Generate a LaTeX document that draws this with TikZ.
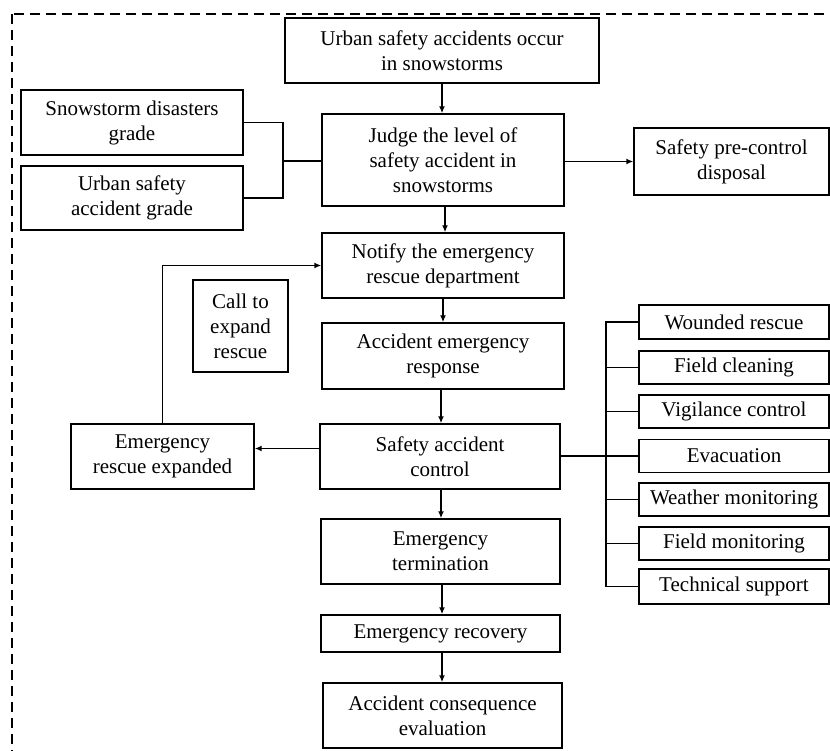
\documentclass[tikz,border=0pt]{standalone}
\usepackage{fontspec}
\setmainfont{Liberation Serif}
\usetikzlibrary{arrows.meta}
\begin{document}
\begin{tikzpicture}[x=1pt,y=-1pt,
  box/.style={draw,line width=1.4pt,align=center,inner sep=0pt,font=\fontsize{21}{25}\selectfont},
  conn/.style={line width=1.4pt},
  arr/.style={line width=1.4pt,-{Latex[length=7pt,width=6pt]}}]
\useasboundingbox (0,0) rectangle (830,751);
\clip (0,0) rectangle (830,751);
\fill[white] (0,0) rectangle (830,751);
\draw[line width=2pt,dash pattern=on 10pt off 6pt] (12,14) rectangle (860,780);
% central column
\node[box,minimum width=314pt,minimum height=65pt] (top) at (442,50.5) {Urban safety accidents occur\\in snowstorms};
\node[box,minimum width=242pt,minimum height=92pt] (judge) at (443,160) {Judge the level of\\safety accident in\\snowstorms};
\node[box,minimum width=242pt,minimum height=65pt] (notify) at (443,265.5) {Notify the emergency\\rescue department};
\node[box,minimum width=242pt,minimum height=66pt] (resp) at (443,356) {Accident emergency\\response};
\node[box,minimum width=240pt,minimum height=65pt] (ctrl) at (440,456.5) {Safety accident\\control};
\node[box,minimum width=239pt,minimum height=65pt] (term) at (440.5,551.5) {Emergency\\termination};
\node[box,minimum width=239pt,minimum height=37pt] (rec) at (440.5,633.5) {Emergency recovery};
\node[box,minimum width=239pt,minimum height=65pt] (eval) at (442.5,715.5) {Accident consequence\\evaluation};
% left
\node[box,minimum width=222pt,minimum height=65pt] (snow) at (132,122.5) {Snowstorm disasters\\grade};
\node[box,minimum width=222pt,minimum height=64pt] (ugrade) at (132,198) {Urban safety\\accident grade};
\node[box,minimum width=95pt,minimum height=92pt] (call) at (240.5,326) {Call to\\expand\\rescue};
\node[box,minimum width=183pt,minimum height=65pt] (expd) at (162.5,456.5) {Emergency\\rescue expanded};
% right
\node[box,minimum width=195pt,minimum height=67pt] (pre) at (731.5,161.5) {Safety pre-control\\disposal};
\node[box,minimum width=190pt,minimum height=34pt] (r1) at (734,322) {Wounded rescue};
\node[box,minimum width=190pt,minimum height=33pt] (r2) at (734,367.5) {Field cleaning};
\node[box,minimum width=190pt,minimum height=33pt] (r3) at (734,411.5) {Vigilance control};
\node[box,minimum width=190pt,minimum height=33pt] (r4) at (734,456) {Evacuation};
\node[box,minimum width=190pt,minimum height=33pt] (r5) at (734,499.5) {Weather monitoring};
\node[box,minimum width=190pt,minimum height=33pt] (r6) at (734,543.5) {Field monitoring};
\node[box,minimum width=190pt,minimum height=35pt] (r7) at (734,586.5) {Technical support};
% connectors
\draw[arr] (top.south -| 442,0) -- (judge.north -| 442,0);
\draw[arr] (judge.south -| 445,0) -- (notify.north -| 445,0);
\draw[arr] (notify.south -| 443,0) -- (resp.north -| 443,0);
\draw[arr] (resp.south -| 441,0) -- (ctrl.north -| 441,0);
\draw[arr] (ctrl.south -| 441,0) -- (term.north -| 441,0);
\draw[arr] (term.south -| 442,0) -- (rec.north -| 442,0);
\draw[arr] (rec.south -| 442,0) -- (eval.north -| 442,0);
\draw[arr] (judge.east |- pre.west) -- (pre.west);
\coordinate (bj) at (283,161);
\draw[conn] (snow.east) -| (bj) |- (ugrade.east);
\draw[conn] (bj) -- (bj -| judge.west);
\draw[arr] ([yshift=8pt]ctrl.west) -- ([yshift=8pt]expd.east);
\draw[arr] (expd.north) |- (notify.west);
\coordinate (tr) at (606,456);
\draw[conn] (ctrl.east |- tr) -- (r4.west);
\draw[conn] (r1.west) -| (tr);
\draw[conn] (r7.west) -| (tr);
\foreach \r in {r2,r3,r5,r6} \draw[conn] (\r.west) -- (\r.west -| tr);
\end{tikzpicture}
\end{document}
